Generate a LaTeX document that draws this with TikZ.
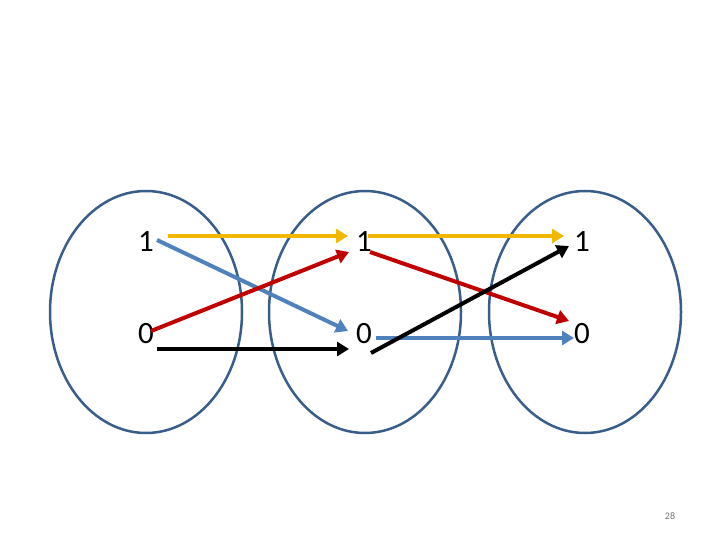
\documentclass[tikz,border=0pt]{standalone}
\usepackage{fontspec}
\setmainfont{Carlito}
\usetikzlibrary{arrows.meta}
\definecolor{ellc}{HTML}{385D8A}
\definecolor{yel}{HTML}{F2B800}
\definecolor{blu}{HTML}{4F81BD}
\definecolor{rd}{HTML}{C00000}
\begin{document}
\begin{tikzpicture}[x=1pt,y=-1pt,
  set/.style={draw=ellc,line width=2.5pt},
  digit/.style={font=\fontsize{31}{31}\selectfont,inner sep=0pt},
  conn/.style={line width=4pt,-{Triangle[length=12pt,width=14pt]}}]
\useasboundingbox (0,0) rectangle (720,540);
\draw[set] (146,312) ellipse [x radius=96, y radius=121];
\draw[set] (365,312) ellipse [x radius=96, y radius=121];
\draw[set] (585,312) ellipse [x radius=96, y radius=121];
\node[digit] (a1) at (146,242) {1};
\node[digit] (a0) at (146,334) {0};
\node[digit] (b1) at (364,242) {1};
\node[digit] (b0) at (364,334) {0};
\node[digit] (c1) at (582,242) {1};
\node[digit] (c0) at (582,334) {0};
\coordinate (y1s) at (168,236); \coordinate (y1e) at (348,236);
\coordinate (y2s) at (368,236); \coordinate (y2e) at (564,236);
\coordinate (bl1s) at (157,240); \coordinate (bl1e) at (348,331);
\coordinate (r1s) at (151,331); \coordinate (r1e) at (349,252);
\coordinate (k1s) at (157,349); \coordinate (k1e) at (349,349);
\coordinate (r2s) at (370,252); \coordinate (r2e) at (569,321);
\coordinate (k2s) at (371,353); \coordinate (k2e) at (569,246);
\coordinate (bl2s) at (376,338); \coordinate (bl2e) at (574,338);
\draw[conn,yel] (y1s) -- (y1e);
\draw[conn,blu] (bl1s) -- (bl1e);
\draw[conn,rd] (r1s) -- (r1e);
\draw[conn,black] (k1s) -- (k1e);
\draw[conn,yel] (y2s) -- (y2e);
\draw[conn,rd] (r2s) -- (r2e);
\draw[conn,blu] (bl2s) -- (bl2e);
\draw[conn,black] (k2s) -- (k2e);
\node[font=\fontsize{10}{10}\selectfont,text=gray!90!black] (pg) at (670,516) {28};
\end{tikzpicture}
\end{document}
